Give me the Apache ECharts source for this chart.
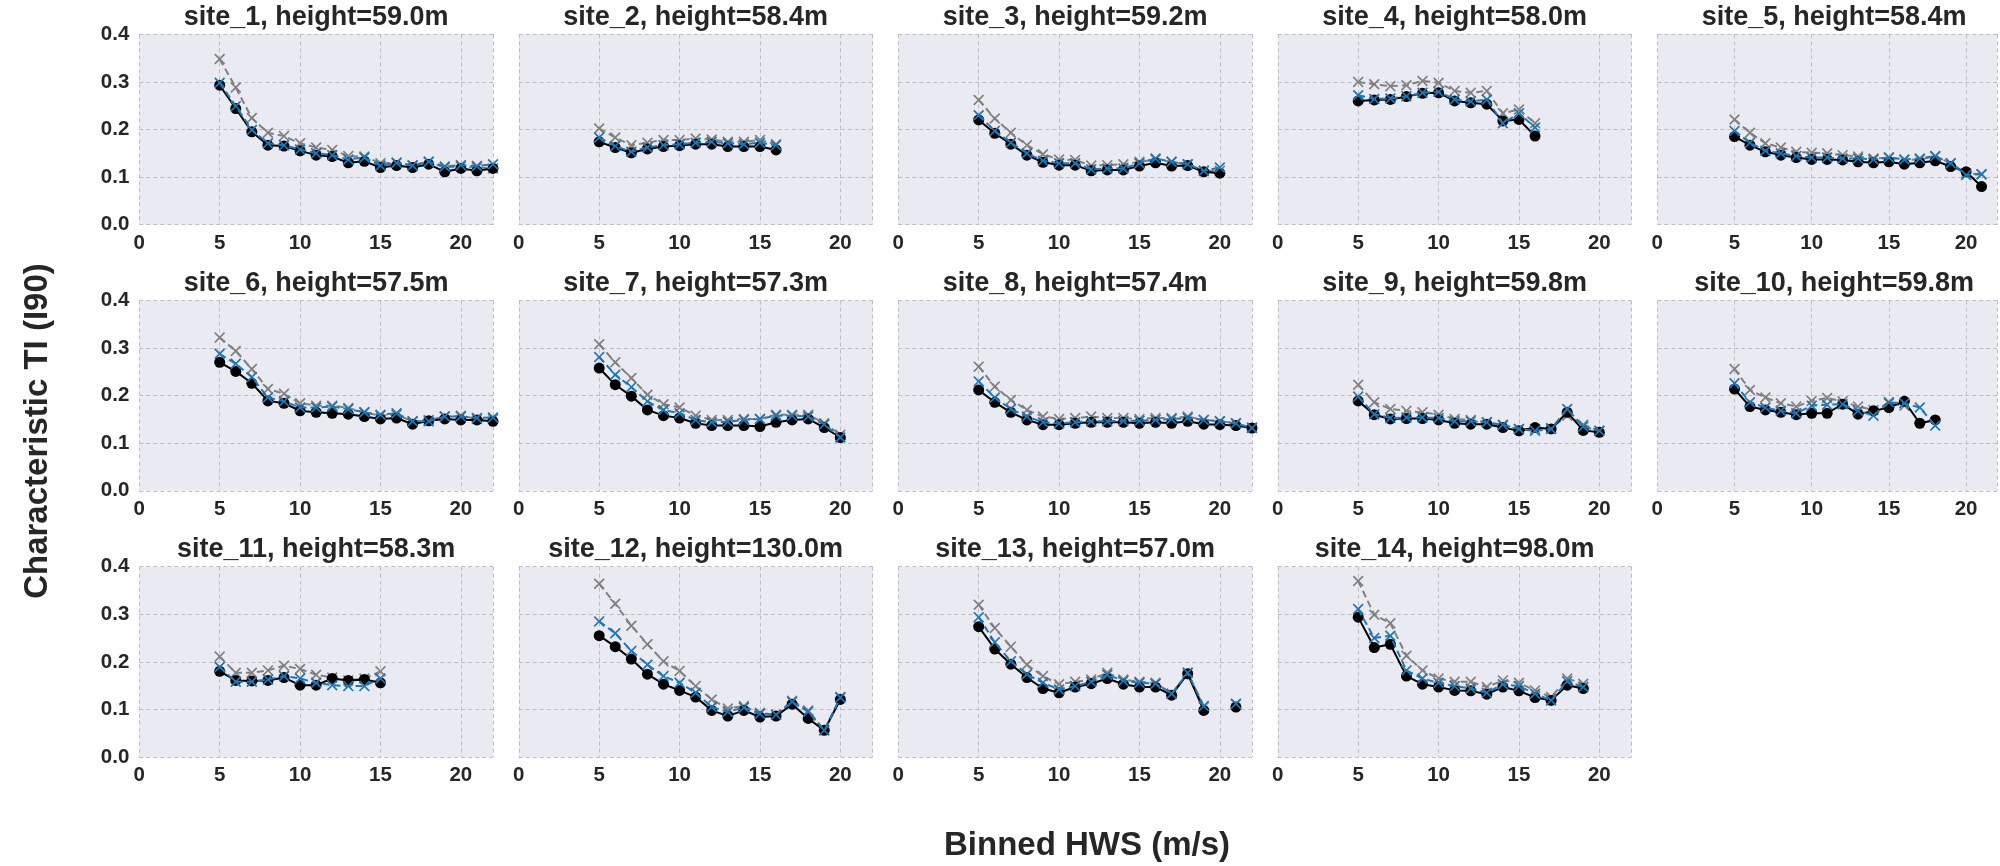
<!DOCTYPE html>
<html>
<head>
<meta charset="utf-8">
<title>Characteristic TI per site</title>
<script src="https://cdn.jsdelivr.net/npm/echarts@6.0.0/dist/echarts.min.js"></script>
<style>
    html, body { margin: 0; padding: 0; background: #ffffff; }
    #tiContainer { width: 2000px; height: 866px; }
</style>
</head>
<body>
<div id="tiContainer"></div>
<script>
// every series starts at the 5 m/s bin, one value per 1 m/s bin
var binStart = 5;

var siteTitles = [
    'site_1, height=59.0m', 'site_2, height=58.4m', 'site_3, height=59.2m', 'site_4, height=58.0m',
    'site_5, height=58.4m', 'site_6, height=57.5m', 'site_7, height=57.3m', 'site_8, height=57.4m',
    'site_9, height=59.8m', 'site_10, height=59.8m', 'site_11, height=58.3m', 'site_12, height=130.0m',
    'site_13, height=57.0m', 'site_14, height=98.0m'
];

var xTicks = [0, 5, 10, 15, 20];
var yTicks = [0.0, 0.1, 0.2, 0.3, 0.4];

var site1_black = [0.293, 0.244, 0.195, 0.167, 0.165, 0.155, 0.146, 0.143, 0.130, 0.133, 0.120, 0.124, 0.120, 0.127, 0.111, 0.118, 0.113, 0.118];
var site1_blue  = [0.298, 0.249, 0.199, 0.171, 0.167, 0.158, 0.150, 0.146, 0.137, 0.141, 0.124, 0.130, 0.124, 0.132, 0.122, 0.125, 0.123, 0.127];
var site1_gray  = [0.348, 0.288, 0.224, 0.193, 0.186, 0.171, 0.162, 0.157, 0.144, 0.143, 0.129, 0.130, 0.125, 0.132, 0.120, 0.122, 0.120, 0.118];

var site2_black = [0.174, 0.162, 0.151, 0.159, 0.164, 0.166, 0.169, 0.169, 0.164, 0.164, 0.164, 0.157];
var site2_blue  = [0.183, 0.165, 0.153, 0.162, 0.167, 0.169, 0.172, 0.174, 0.171, 0.169, 0.172, 0.167];
var site2_gray  = [0.202, 0.183, 0.167, 0.172, 0.178, 0.178, 0.181, 0.179, 0.174, 0.174, 0.178, 0.169];

var site3_black = [0.220, 0.192, 0.169, 0.146, 0.131, 0.125, 0.125, 0.113, 0.115, 0.115, 0.123, 0.130, 0.123, 0.124, 0.111, 0.108];
var site3_blue  = [0.230, 0.197, 0.172, 0.150, 0.134, 0.129, 0.129, 0.116, 0.118, 0.118, 0.129, 0.139, 0.132, 0.127, 0.113, 0.120];
var site3_gray  = [0.262, 0.223, 0.193, 0.167, 0.148, 0.137, 0.136, 0.124, 0.125, 0.127, 0.132, 0.137, 0.132, 0.127, 0.113, 0.113];

var site4_black = [0.260, 0.262, 0.263, 0.269, 0.276, 0.277, 0.260, 0.256, 0.253, 0.218, 0.221, 0.186];
var site4_blue  = [0.272, 0.264, 0.265, 0.270, 0.277, 0.279, 0.263, 0.259, 0.263, 0.213, 0.234, 0.204];
var site4_gray  = [0.300, 0.295, 0.291, 0.293, 0.302, 0.298, 0.281, 0.277, 0.281, 0.234, 0.242, 0.213];

var site5_black = [0.185, 0.167, 0.153, 0.146, 0.141, 0.137, 0.137, 0.136, 0.132, 0.130, 0.132, 0.127, 0.130, 0.134, 0.122, 0.111, 0.080];
var site5_blue  = [0.197, 0.172, 0.155, 0.150, 0.144, 0.141, 0.141, 0.139, 0.139, 0.137, 0.141, 0.137, 0.139, 0.144, 0.129, 0.104, 0.106];
var site5_gray  = [0.221, 0.193, 0.171, 0.162, 0.153, 0.151, 0.150, 0.146, 0.143, 0.139, 0.141, 0.136, 0.137, 0.143, 0.129, 0.108, 0.106];

var site6_black = [0.270, 0.251, 0.226, 0.189, 0.184, 0.168, 0.165, 0.163, 0.161, 0.156, 0.151, 0.153, 0.140, 0.147, 0.151, 0.149, 0.149, 0.146];
var site6_blue  = [0.288, 0.267, 0.239, 0.196, 0.188, 0.175, 0.175, 0.177, 0.172, 0.165, 0.160, 0.163, 0.146, 0.146, 0.156, 0.156, 0.153, 0.154];
var site6_gray  = [0.322, 0.294, 0.256, 0.214, 0.204, 0.184, 0.179, 0.179, 0.174, 0.165, 0.158, 0.160, 0.146, 0.149, 0.156, 0.158, 0.151, 0.151];

var site7_black = [0.258, 0.223, 0.199, 0.170, 0.158, 0.153, 0.142, 0.137, 0.137, 0.137, 0.135, 0.144, 0.149, 0.151, 0.133, 0.112];
var site7_blue  = [0.281, 0.244, 0.218, 0.188, 0.170, 0.163, 0.149, 0.144, 0.145, 0.149, 0.151, 0.158, 0.158, 0.156, 0.140, 0.112];
var site7_gray  = [0.308, 0.270, 0.237, 0.202, 0.182, 0.175, 0.158, 0.149, 0.149, 0.151, 0.151, 0.160, 0.160, 0.160, 0.142, 0.118];

var site8_black = [0.212, 0.186, 0.165, 0.149, 0.139, 0.139, 0.142, 0.144, 0.144, 0.144, 0.142, 0.144, 0.142, 0.146, 0.140, 0.139, 0.137, 0.132];
var site8_blue  = [0.230, 0.196, 0.172, 0.156, 0.144, 0.142, 0.144, 0.146, 0.146, 0.147, 0.147, 0.149, 0.151, 0.153, 0.149, 0.146, 0.142, 0.132];
var site8_gray  = [0.261, 0.219, 0.191, 0.170, 0.156, 0.151, 0.153, 0.156, 0.153, 0.153, 0.151, 0.153, 0.153, 0.156, 0.149, 0.146, 0.142, 0.133];

var site9_black = [0.189, 0.160, 0.151, 0.152, 0.152, 0.149, 0.142, 0.140, 0.140, 0.133, 0.126, 0.133, 0.130, 0.165, 0.127, 0.123];
var site9_blue  = [0.198, 0.161, 0.153, 0.154, 0.154, 0.153, 0.146, 0.146, 0.144, 0.139, 0.130, 0.126, 0.130, 0.172, 0.135, 0.126];
var site9_gray  = [0.223, 0.186, 0.172, 0.168, 0.165, 0.160, 0.151, 0.149, 0.144, 0.137, 0.130, 0.130, 0.132, 0.158, 0.139, 0.126];

var site10_black = [0.214, 0.177, 0.170, 0.165, 0.160, 0.163, 0.163, 0.182, 0.161, 0.168, 0.175, 0.188, 0.142, 0.149];
var site10_blue  = [0.226, 0.186, 0.175, 0.168, 0.163, 0.179, 0.181, 0.182, 0.168, 0.158, 0.186, 0.184, 0.175, 0.137];
var site10_gray  = [0.256, 0.212, 0.196, 0.184, 0.177, 0.189, 0.195, 0.188, 0.177, 0.170, 0.184, 0.179];

var site11_black = [0.180, 0.161, 0.160, 0.161, 0.167, 0.151, 0.151, 0.165, 0.161, 0.163, 0.156];
var site11_blue  = [0.189, 0.158, 0.158, 0.163, 0.170, 0.165, 0.156, 0.151, 0.149, 0.149, 0.165];
var site11_gray  = [0.211, 0.177, 0.177, 0.182, 0.192, 0.185, 0.173, 0.167, 0.161, 0.165, 0.180];

var site12_black = [0.255, 0.232, 0.206, 0.174, 0.153, 0.140, 0.126, 0.098, 0.086, 0.098, 0.084, 0.086, 0.111, 0.081, 0.056, 0.121];
var site12_blue  = [0.285, 0.260, 0.223, 0.194, 0.170, 0.156, 0.135, 0.105, 0.095, 0.104, 0.091, 0.089, 0.116, 0.095, 0.056, 0.125];
var site12_gray  = [0.364, 0.322, 0.276, 0.237, 0.201, 0.181, 0.149, 0.121, 0.102, 0.107, 0.093, 0.089, 0.118, 0.098, 0.056, 0.126];

// no data in the 20 m/s bin
var site13_black = [0.274, 0.227, 0.195, 0.167, 0.144, 0.135, 0.147, 0.154, 0.165, 0.153, 0.147, 0.147, 0.130, 0.175, 0.098, null, 0.105];
var site13_blue  = [0.294, 0.241, 0.201, 0.174, 0.156, 0.142, 0.149, 0.158, 0.173, 0.160, 0.156, 0.154, 0.133, 0.177, 0.107, null, 0.112];
var site13_gray  = [0.320, 0.271, 0.232, 0.194, 0.170, 0.153, 0.158, 0.163, 0.177, 0.163, 0.158, 0.156, 0.133, 0.177, 0.105, null, 0.111];

var site14_black = [0.294, 0.230, 0.237, 0.170, 0.153, 0.147, 0.140, 0.139, 0.132, 0.147, 0.139, 0.125, 0.119, 0.151, 0.144];
var site14_blue  = [0.311, 0.250, 0.255, 0.182, 0.165, 0.156, 0.149, 0.144, 0.135, 0.153, 0.149, 0.133, 0.119, 0.159, 0.147];
var site14_gray  = [0.370, 0.299, 0.281, 0.213, 0.182, 0.165, 0.158, 0.158, 0.147, 0.161, 0.156, 0.140, 0.126, 0.165, 0.154];

var blackSeries = [site1_black, site2_black, site3_black, site4_black, site5_black, site6_black, site7_black,
    site8_black, site9_black, site10_black, site11_black, site12_black, site13_black, site14_black];
var blueSeries = [site1_blue, site2_blue, site3_blue, site4_blue, site5_blue, site6_blue, site7_blue,
    site8_blue, site9_blue, site10_blue, site11_blue, site12_blue, site13_blue, site14_blue];
var graySeries = [site1_gray, site2_gray, site3_gray, site4_gray, site5_gray, site6_gray, site7_gray,
    site8_gray, site9_gray, site10_gray, site11_gray, site12_gray, site13_gray, site14_gray];

(function () {

    'use strict';

    var container = document.getElementById('tiContainer');
    var chart;

    var fontName = 'Liberation Sans';
    var textColor = '#262626';
    var gridColor = '#bdbdc4';

    // panel geometry (pixels)
    var colCount = 5;
    var panelLeft = 139.3;
    var panelTop = 34.3;
    var colStep = 379.5;
    var rowStep = 266.2;
    var panelW = 353.7;
    var panelH = 190.3;

    // filled "x" marker
    var crossPath = 'path://M0,1.1L1.1,0L5,3.9L8.9,0L10,1.1L6.1,5L10,8.9L8.9,10L5,6.1L1.1,10L0,8.9L3.9,5Z';

    function toPoints(values) {
        return values.map(function (v, i) {
            return [binStart + i, v === null ? '-' : v];
        });
    }

    var grids = [], xAxes = [], yAxes = [], series = [], graphics = [];

    siteTitles.forEach(function (title, i) {
        var col = i % colCount;
        var row = Math.floor(i / colCount);
        var left = panelLeft + col * colStep;
        var top = panelTop + row * rowStep;

        grids.push({
            left: left,
            top: top,
            width: panelW,
            height: panelH,
            show: true,
            backgroundColor: '#eaeaf2',
            borderWidth: 0,
            containLabel: false
        });

        xAxes.push({
            type: 'value',
            gridIndex: i,
            min: xTicks[0],
            max: 22,
            interval: xTicks[1] - xTicks[0],
            axisLine: { show: false },
            axisTick: { show: false },
            axisLabel: {
                margin: 8,
                color: textColor,
                fontFamily: fontName,
                fontWeight: 'bold',
                fontSize: 20.5,
                formatter: function (v) {
                    return xTicks.indexOf(v) >= 0 ? String(v) : '';
                }
            },
            splitLine: { show: true, lineStyle: { color: gridColor, width: 1, type: [4, 3] } }
        });

        yAxes.push({
            type: 'value',
            gridIndex: i,
            min: yTicks[0],
            max: yTicks[yTicks.length - 1],
            interval: 0.1,
            axisLine: { show: false },
            axisTick: { show: false },
            axisLabel: {
                show: col === 0,
                margin: 10,
                color: textColor,
                fontFamily: fontName,
                fontWeight: 'bold',
                fontSize: 20.5,
                formatter: function (v) { return v.toFixed(1); }
            },
            splitLine: { show: true, lineStyle: { color: gridColor, width: 1, type: [4, 3] } }
        });

        series.push({
            type: 'line',
            xAxisIndex: i,
            yAxisIndex: i,
            data: toPoints(graySeries[i]),
            z: 2,
            symbol: crossPath,
            symbolSize: 11,
            itemStyle: { color: '#808080' },
            lineStyle: { color: '#808080', width: 2, type: [7, 4] }
        });
        series.push({
            type: 'line',
            xAxisIndex: i,
            yAxisIndex: i,
            data: toPoints(blackSeries[i]),
            z: 3,
            symbol: 'circle',
            symbolSize: 11,
            itemStyle: { color: '#000000' },
            lineStyle: { color: '#000000', width: 2 }
        });
        series.push({
            type: 'line',
            xAxisIndex: i,
            yAxisIndex: i,
            data: toPoints(blueSeries[i]),
            z: 4,
            symbol: crossPath,
            symbolSize: 11,
            itemStyle: { color: '#1f77b4' },
            lineStyle: { color: '#1f77b4', width: 2, type: [7, 4] }
        });

        graphics.push({
            type: 'text',
            x: left + panelW / 2,
            y: top - 17,
            style: {
                text: title,
                fill: textColor,
                font: 'bold 27px "' + fontName + '"',
                textAlign: 'center',
                textVerticalAlign: 'middle'
            }
        });
    });

    graphics.push({
        type: 'text',
        x: 1087,
        y: 846,
        style: {
            text: 'Binned HWS (m/s)',
            fill: textColor,
            font: 'bold 33px "' + fontName + '"',
            textAlign: 'center',
            textVerticalAlign: 'middle'
        }
    });
    graphics.push({
        type: 'text',
        x: 38,
        y: 431,
        rotation: Math.PI / 2,
        style: {
            text: 'Characteristic TI (I90)',
            fill: textColor,
            font: 'bold 33px "' + fontName + '"',
            textAlign: 'center',
            textVerticalAlign: 'middle'
        }
    });

    var option = {
        animation: false,
        backgroundColor: '#ffffff',
        grid: grids,
        xAxis: xAxes,
        yAxis: yAxes,
        series: series,
        graphic: graphics
    };

    chart = echarts.init(container, null, { renderer: 'canvas' });
    chart.setOption(option);
}());
</script>
</body>
</html>
